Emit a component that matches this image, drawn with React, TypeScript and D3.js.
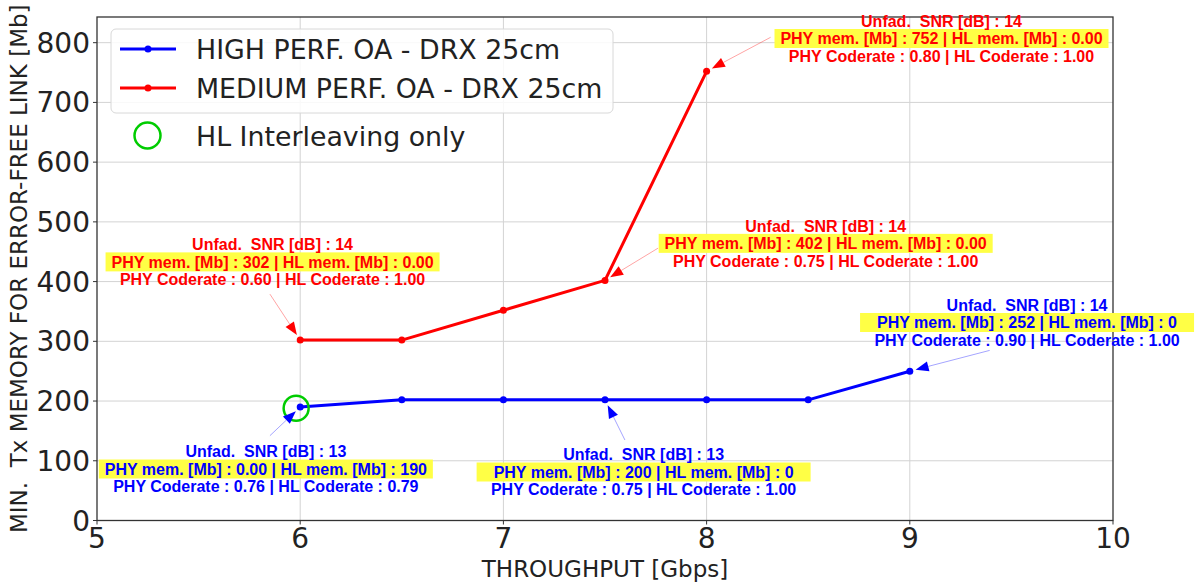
import { useEffect, useRef } from 'react'
import * as d3 from 'd3'

const W = 1199
const H = 586

// series
const highX = [6, 6.5, 7, 7.5, 8, 8.5, 9]
const highY = [190, 202, 202, 202, 202, 202, 250]
const medX = [6, 6.5, 7, 7.5, 8]
const medY = [302, 302, 352, 402, 752]
const xTicks = [5, 6, 7, 8, 9, 10]
const yTicks = [0, 100, 200, 300, 400, 500, 600, 700, 800]
const interleaveX = [5.98]
const interleaveY = [188]

const legendLabels = ['HIGH PERF. OA - DRX 25cm', 'MEDIUM PERF. OA - DRX 25cm', 'HL Interleaving only']

// annotation texts
const annSeries = ['med', 'med', 'med', 'high', 'high', 'high']
const annIndex = [0, 3, 4, 6, 3, 0]
const annSnr = ['14', '14', '14', '14', '13', '13']
const annPhyMem = ['302', '402', '752', '252', '200', '0.00']
const annHlMem = ['0.00', '0.00', '0.00', '0', '0', '190']
const annPhyRate = ['0.60', '0.75', '0.80', '0.90', '0.75', '0.76']
const annHlRate = ['1.00', '1.00', '1.00', '1.00', '1.00', '0.79']
// text anchor (centre of middle line) and arrow tail, in data units
const annTextX = [5.864, 8.586, 9.156, 9.577, 7.69, 5.831]
const annTextY = [433, 464, 807, 331.5, 81.2, 86.2]
const annTailX = [5.851, 7.761, 8.315, 9.393, 7.598, 5.851]
const annTailY = [379, 456, 809, 284.8, 134.8, 142]

export default function App() {
    const ref = useRef<SVGSVGElement>(null)

    useEffect(() => {
        draw()
    })

    const draw = () => {
        const svg = d3.select(ref.current)
        svg.selectAll('*').remove()

        const left = 97, right = 1113, top = 17, bottom = 520.5
        const x = d3.scaleLinear().domain([5, 10]).range([left, right])
        const y = d3.scaleLinear().domain([0, 843]).range([bottom, top])
        const axisFont = 'DejaVu Sans, sans-serif'
        const ink = '#222'

        svg.append('rect').attr('width', W).attr('height', H).attr('fill', 'white')

        // grid
        const grid = svg.append('g').attr('stroke', '#d3d3d3').attr('stroke-width', 1)
        xTicks.slice(1, -1).forEach(t => {
            grid.append('line').attr('x1', x(t)).attr('x2', x(t)).attr('y1', top).attr('y2', bottom)
        })
        yTicks.slice(1).forEach(t => {
            grid.append('line').attr('x1', left).attr('x2', right).attr('y1', y(t)).attr('y2', y(t))
        })

        // frame
        svg.append('rect')
            .attr('x', left).attr('y', top)
            .attr('width', right - left).attr('height', bottom - top)
            .attr('fill', 'none').attr('stroke', '#333').attr('stroke-width', 1.3)

        // ticks + labels
        yTicks.forEach(t => {
            svg.append('line').attr('x1', left - 4).attr('x2', left).attr('y1', y(t)).attr('y2', y(t))
                .attr('stroke', '#333').attr('stroke-width', 1)
            svg.append('text').attr('x', left - 7).attr('y', y(t) + 10)
                .attr('text-anchor', 'end').attr('font-family', axisFont).attr('font-size', 28)
                .attr('fill', ink).text(t)
        })
        xTicks.forEach(t => {
            svg.append('line').attr('x1', x(t)).attr('x2', x(t)).attr('y1', bottom).attr('y2', bottom + 4)
                .attr('stroke', '#333').attr('stroke-width', 1)
            svg.append('text').attr('x', x(t)).attr('y', 548)
                .attr('text-anchor', 'middle').attr('font-family', axisFont).attr('font-size', 28)
                .attr('fill', ink).text(t)
        })

        svg.append('text').attr('x', (left + right) / 2).attr('y', 577)
            .attr('text-anchor', 'middle').attr('font-family', axisFont).attr('font-size', 23)
            .attr('fill', ink).text('THROUGHPUT [Gbps]')
        svg.append('text')
            .attr('transform', `translate(27,${(top + bottom) / 2}) rotate(-90)`)
            .attr('text-anchor', 'middle').attr('font-family', axisFont).attr('font-size', 23)
            .attr('fill', ink).style('white-space', 'pre')
            .text('MIN.  Tx MEMORY FOR ERROR-FREE LINK [Mb]')

        // series
        const series = [
            { xs: highX, ys: highY, color: '#0000ff' },
            { xs: medX, ys: medY, color: '#ff0000' },
        ]
        series.forEach(s => {
            const pts = s.xs.map((v, i) => [x(v), y(s.ys[i])] as [number, number])
            svg.append('path').attr('d', d3.line()(pts)).attr('fill', 'none')
                .attr('stroke', s.color).attr('stroke-width', 3).attr('stroke-linejoin', 'round')
            pts.forEach(p => {
                svg.append('circle').attr('cx', p[0]).attr('cy', p[1]).attr('r', 3.5).attr('fill', s.color)
            })
        })

        // HL interleaving circle
        interleaveX.forEach((v, i) => {
            svg.append('circle').attr('cx', x(v)).attr('cy', y(interleaveY[i])).attr('r', 12.5)
                .attr('fill', 'none').attr('stroke', '#00cc00').attr('stroke-width', 2.5)
        })

        // annotations
        annSeries.forEach((sName, i) => {
            const color = sName === 'high' ? '#0000ff' : '#ff0000'
            const xs = sName === 'high' ? highX : medX
            const ys = sName === 'high' ? highY : medY
            const px = x(xs[annIndex[i]]), py = y(ys[annIndex[i]])
            const tx = x(annTailX[i]), ty = y(annTailY[i])
            const dx = px - tx, dy = py - ty
            const len = Math.hypot(dx, dy)
            const ux = dx / len, uy = dy / len
            const tipX = px - ux * 6, tipY = py - uy * 6
            const baseX = tipX - ux * 13, baseY = tipY - uy * 13
            svg.append('line').attr('x1', tx).attr('y1', ty).attr('x2', baseX).attr('y2', baseY)
                .attr('stroke', color).attr('stroke-width', 0.8).attr('stroke-opacity', 0.45)
            svg.append('polygon')
                .attr('points', [
                    [tipX, tipY],
                    [baseX - uy * 5, baseY + ux * 5],
                    [baseX + uy * 5, baseY - ux * 5],
                ].map(p => p.join(',')).join(' '))
                .attr('fill', color)

            const cx = x(annTextX[i]), cy = y(annTextY[i])
            const lines = [
                `Unfad.  SNR [dB] : ${annSnr[i]}`,
                `PHY mem. [Mb] : ${annPhyMem[i]} | HL mem. [Mb] : ${annHlMem[i]}`,
                `PHY Coderate : ${annPhyRate[i]} | HL Coderate : ${annHlRate[i]}`,
            ]
            const g = svg.append('g')
            const hl = g.append('rect').attr('fill', '#ffff45')
            lines.forEach((t, k) => {
                const el = g.append('text').attr('x', cx).attr('y', cy + (k - 1) * 17.5 + 5.7)
                    .attr('text-anchor', 'middle')
                    .attr('font-family', 'Liberation Sans, Arial, sans-serif')
                    .attr('font-weight', 'bold').attr('font-size', 16)
                    .attr('fill', color).style('white-space', 'pre').text(t)
                if (k === 1) {
                    const w = Math.max((el.node() as SVGTextElement).getComputedTextLength() + 4, 334)
                    hl.attr('x', cx - w / 2).attr('y', cy - 9.5).attr('width', w).attr('height', 19)
                }
            })
        })

        // legend
        const lg = svg.append('g')
        lg.append('rect').attr('x', 111).attr('y', 29).attr('width', 502).attr('height', 84).attr('rx', 5)
            .attr('fill', 'white').attr('fill-opacity', 0.85).attr('stroke', '#d8d8d8')
        const legColors = ['#0000ff', '#ff0000']
        legColors.forEach((c, i) => {
            const ly = 49 + i * 39
            lg.append('line').attr('x1', 120).attr('x2', 176).attr('y1', ly).attr('y2', ly)
                .attr('stroke', c).attr('stroke-width', 3)
            lg.append('circle').attr('cx', 148).attr('cy', ly).attr('r', 3.5).attr('fill', c)
            lg.append('text').attr('x', 196).attr('y', ly + 10).attr('font-family', axisFont)
                .attr('font-size', 26.8).attr('fill', ink).text(legendLabels[i])
        })
        lg.append('circle').attr('cx', 147.5).attr('cy', 135.5).attr('r', 13)
            .attr('fill', 'none').attr('stroke', '#00cc00').attr('stroke-width', 2.5)
        lg.append('text').attr('x', 196).attr('y', 145.5).attr('font-family', axisFont)
            .attr('font-size', 26.8).attr('fill', ink).text(legendLabels[2])
    }

    return (
        <svg ref={ref} width={W} height={H}
             style={{ position: 'absolute', left: 0, top: 0, display: 'block' }} />
    )
}
